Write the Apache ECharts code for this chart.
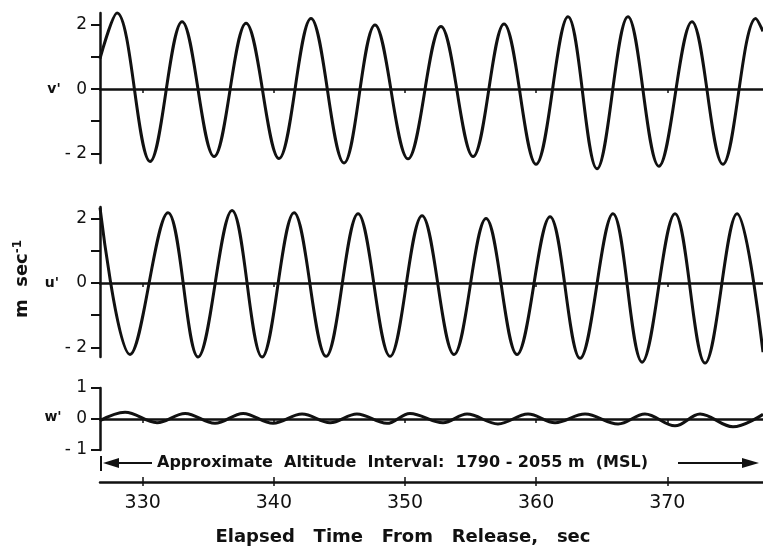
<!DOCTYPE html>
<html>
<head>
<meta charset="utf-8">
<script src="https://cdn.jsdelivr.net/npm/echarts@6/dist/echarts.min.js"></script>
<style>
html, body { margin: 0; padding: 0; background: #fff; }
#chart { width: 763px; height: 549px; }
</style>
</head>
<body>
<div id="chart"></div>
<script>
// time axis (s)
var tMin = 326.74
var tMax = 377.3
var timeTicks = [330, 340, 350, 360, 370]

// v' : turning points (time s, m/s)
var vTime = [326.74, 328.04, 330.56, 333.0, 335.44, 337.88, 340.39, 342.83, 345.35, 347.71, 350.23, 352.74, 355.19, 357.55, 359.99, 362.43, 364.64, 367.0, 369.36, 371.88, 374.24, 376.75, 377.3]
var vValue = [0.95, 2.37, -2.25, 2.1, -2.1, 2.05, -2.16, 2.2, -2.3, 2.0, -2.17, 1.95, -2.1, 2.03, -2.34, 2.25, -2.48, 2.25, -2.4, 2.1, -2.34, 2.2, 1.8]

// u'
var uTime = [326.74, 329.03, 331.93, 334.22, 336.81, 339.10, 341.54, 343.98, 346.42, 348.86, 351.30, 353.74, 356.18, 358.54, 361.06, 363.35, 365.86, 368.08, 370.59, 372.88, 375.32, 377.3]
var uValue = [2.34, -2.22, 2.18, -2.3, 2.25, -2.3, 2.18, -2.28, 2.15, -2.28, 2.09, -2.22, 2.0, -2.22, 2.06, -2.34, 2.15, -2.46, 2.15, -2.49, 2.15, -2.15]

// w'
var wTime = [326.74, 328.65, 331.09, 333.23, 335.51, 337.65, 339.94, 342.15, 344.29, 346.33, 348.62, 350.38, 352.90, 354.73, 357.09, 359.38, 361.44, 363.73, 366.25, 368.30, 370.59, 372.50, 375.01, 377.3]
var wValue = [-0.05, 0.22, -0.12, 0.18, -0.14, 0.18, -0.14, 0.16, -0.12, 0.16, -0.14, 0.18, -0.12, 0.16, -0.16, 0.16, -0.12, 0.16, -0.16, 0.16, -0.22, 0.16, -0.25, 0.15]

var ink = '#111'
var font = 'DejaVu Sans'

function pairs (xs, ys) {
  var out = []
  for (var i = 0; i < xs.length; i++) out.push([xs[i], ys[i]])
  return out
}

function minusLabel (v) {
  return v < 0 ? '- ' + Math.abs(v) : String(v)
}

function panelX (idx) {
  return {
    type: 'value', gridIndex: idx, min: tMin, max: tMax,
    axisLine: { onZero: true, lineStyle: { color: ink, width: 2.5 } },
    axisTick: { customValues: timeTicks, length: 4, lineStyle: { color: ink, width: 1.5 } },
    axisLabel: { show: false },
    splitLine: { show: false }
  }
}

function panelY (idx, min, max, ticks, labels) {
  return {
    type: 'value', gridIndex: idx, min: min, max: max,
    axisLine: { show: true, onZero: false, lineStyle: { color: ink, width: 2.5 } },
    axisTick: { show: true, customValues: ticks, length: 9, lineStyle: { color: ink, width: 2 } },
    axisLabel: { customValues: labels, formatter: minusLabel, color: ink, fontFamily: font, fontSize: 17, margin: 13 },
    splitLine: { show: false }
  }
}

function trace (idx, xs, ys) {
  return {
    type: 'line', xAxisIndex: idx, yAxisIndex: idx,
    data: pairs(xs, ys),
    smooth: 0.36, showSymbol: false, clip: false,
    lineStyle: { color: ink, width: 3 }
  }
}

var chart = echarts.init(document.getElementById('chart'))
chart.setOption({
  animation: false,
  backgroundColor: '#fff',
  grid: [
    { left: 100, right: 0, top: 13, height: 150 },
    { left: 100, right: 0, top: 207, height: 150 },
    { left: 100, right: 0, top: 388, height: 62 },
    { left: 100, right: 0, top: 481, height: 1 }
  ],
  xAxis: [
    panelX(0), panelX(1), panelX(2),
    {
      type: 'value', gridIndex: 3, min: tMin, max: tMax,
      axisLine: { lineStyle: { color: ink, width: 2.5 } },
      axisTick: { customValues: timeTicks, length: 4, lineStyle: { color: ink, width: 1.5 } },
      axisLabel: { customValues: timeTicks, color: ink, fontFamily: font, fontSize: 19, margin: 12 },
      splitLine: { show: false }
    },
    {
      type: 'value', gridIndex: 3, min: tMin, max: tMax, position: 'bottom',
      axisLine: { show: false },
      axisTick: { inside: true, customValues: timeTicks, length: 5, lineStyle: { color: ink, width: 1.5 } },
      axisLabel: { show: false },
      splitLine: { show: false }
    }
  ],
  yAxis: [
    panelY(0, -2.3, 2.37, [-2, -1, 0, 1, 2], [-2, 0, 2]),
    panelY(1, -2.3, 2.36, [-2, -1, 0, 1, 2], [-2, 0, 2]),
    panelY(2, -1, 1, [-1, 0, 1], [-1, 0, 1]),
    { type: 'value', gridIndex: 3, show: false }
  ],
  series: [
    trace(0, vTime, vValue),
    trace(1, uTime, uValue),
    trace(2, wTime, wValue)
  ],
  graphic: [
    { type: 'text', x: 54, y: 89, style: { text: "v'", font: 'bold 14px ' + font, fill: ink, align: 'center', verticalAlign: 'middle' } },
    { type: 'text', x: 52, y: 283, style: { text: "u'", font: 'bold 14px ' + font, fill: ink, align: 'center', verticalAlign: 'middle' } },
    { type: 'text', x: 53, y: 417, style: { text: "w'", font: 'bold 14px ' + font, fill: ink, align: 'center', verticalAlign: 'middle' } },
    {
      type: 'text', x: 22, y: 279, rotation: Math.PI / 2,
      style: {
        text: 'm  sec{sup|-1}', font: 'bold 18px ' + font, fill: ink, align: 'center', verticalAlign: 'middle',
        rich: { sup: { font: 'bold 12px ' + font, fill: ink, verticalAlign: 'top', padding: [0, 0, 9, 0] } }
      }
    },
    { type: 'text', x: 157, y: 463, style: { text: 'Approximate  Altitude  Interval:  1790 - 2055 m  (MSL)', font: 'bold 16px ' + font, fill: ink, align: 'left', verticalAlign: 'middle' } },
    { type: 'line', shape: { x1: 101, y1: 456, x2: 101, y2: 471 }, style: { stroke: ink, lineWidth: 2 } },
    { type: 'line', shape: { x1: 112, y1: 463, x2: 152, y2: 463 }, style: { stroke: ink, lineWidth: 2 } },
    { type: 'polygon', shape: { points: [[103, 463], [119, 458], [119, 468]] }, style: { fill: ink } },
    { type: 'line', shape: { x1: 678, y1: 463, x2: 748, y2: 463 }, style: { stroke: ink, lineWidth: 2 } },
    { type: 'polygon', shape: { points: [[759, 463], [742, 458], [742, 468]] }, style: { fill: ink } },
    { type: 'text', x: 403, y: 537, style: { text: 'Elapsed   Time   From   Release,   sec', font: 'bold 18px ' + font, fill: ink, align: 'center', verticalAlign: 'middle' } }
  ]
})
</script>
</body>
</html>
